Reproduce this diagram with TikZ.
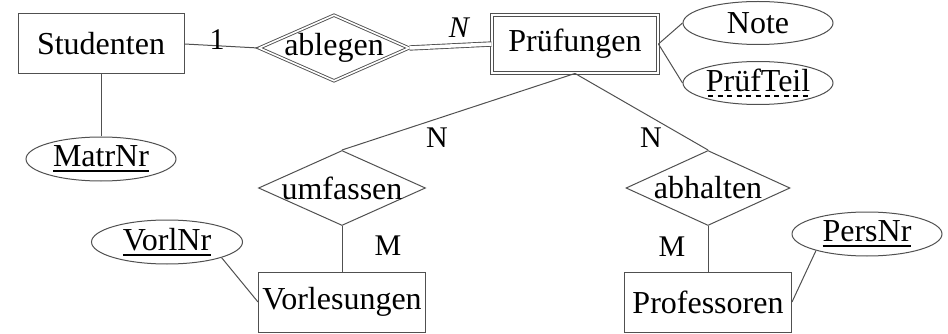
\documentclass[tikz,border=0pt]{standalone}
\usepackage{fontspec}
\setmainfont{Liberation Serif}
\usetikzlibrary{shapes.geometric}
\newcommand\keyul[1]{\setbox0\hbox{#1}\rlap{\rule[-5pt]{\wd0}{1.8pt}}\box0}
\newcommand\dashul[1]{\setbox0\hbox{#1}\rlap{\raisebox{-5pt}{\hbox to \wd0{\xleaders\hbox to 9pt{\hss\rule{5pt}{1.4pt}\hss}\hfill}}}\box0}
\definecolor{ln}{HTML}{505050}
\tikzset{
  every node/.style={font=\fontsize{32}{36}\selectfont, inner sep=0pt},
  entity/.style={draw=ln, line width=1pt, rectangle, minimum width=166pt, minimum height=60pt},
  wentity/.style={draw=ln, line width=0.9pt, double=white, double distance=2pt, rectangle, minimum width=166pt, minimum height=58pt},
  rel/.style={draw=ln, line width=1pt, diamond, aspect=2.2},
  wrel/.style={draw=ln, line width=0.9pt, double=white, double distance=1.6pt, diamond, aspect=2.2},
  attr/.style={draw=ln, line width=1pt, ellipse, minimum width=150pt, minimum height=43pt},
  conn/.style={draw=ln, line width=1pt},
  card/.style={font=\fontsize{30}{34}\selectfont}
}
\begin{document}
\begin{tikzpicture}[x=1pt,y=-1pt]
\useasboundingbox (0,0) rectangle (948,334);
% entities
\node[entity] (stud) at (101,44) {Studenten};
\node[wentity] (pruef) at (575,44) {Prüfungen};
\node[entity, minimum width=167pt] (vorl) at (342,302) {Vorlesungen};
\node[entity, minimum width=167pt] (prof) at (708,302) {Professoren};
% relationships
\node[wrel, minimum width=150pt, minimum height=66pt, label=center:ablegen] (ableg) at (334,48) {};
\node[rel, minimum width=167pt, minimum height=75pt, label=center:umfassen] (umf) at (342,188) {};
\node[rel, minimum width=164pt, minimum height=75pt, label=center:abhalten] (abh) at (708,188) {};
% attributes
\node[attr] (note) at (758,23) {Note};
\node[attr] (pteil) at (758,83) {\dashul{PrüfTeil}};
\node[attr, minimum height=44pt] (matr) at (101,159) {\keyul{MatrNr}};
\node[attr, minimum width=151pt, minimum height=44pt] (vnr) at (167,242) {\keyul{VorlNr}};
\node[attr, minimum height=44pt] (pnr) at (867,234) {\keyul{PersNr}};
% connectors
\draw[conn] (stud.east) -- (ableg.west);
\draw[conn, double=white, double distance=3.5pt, line width=0.9pt] (ableg.east) -- (pruef.west);
\draw[conn] (pruef.east) -- (note.west);
\draw[conn] (pruef.east) -- (pteil.west);
\draw[conn] (stud.south) -- (matr.north);
\draw[conn] (pruef.south) -- (umf.north);
\draw[conn] (pruef.south) -- (abh.north);
\draw[conn] (umf.south) -- (vorl.north);
\draw[conn] (abh.south) -- (prof.north);
\draw[conn] (vnr.-16) -- (vorl.west);
\draw[conn] (pnr.-162) -- (prof.east);
% cardinalities
\node[card] (c1) at (217,40) {1};
\node[card] (cn1) at (459,28) {\itshape N};
\node[card] (cn2) at (437,138) {N};
\node[card] (cn3) at (651,138) {N};
\node[card] (cm1) at (388,246) {M};
\node[card] (cm2) at (672,247) {M};
\end{tikzpicture}
\end{document}
